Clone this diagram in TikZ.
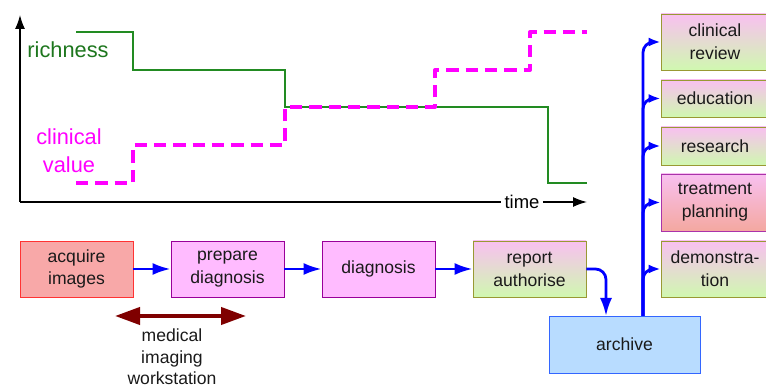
\documentclass[tikz,border=0pt]{standalone}
\usepackage{fontspec}
\setmainfont{Liberation Sans}
\usetikzlibrary{arrows.meta}
\usetikzlibrary{calc}

\definecolor{boxtext}{HTML}{1A1A1A}
\definecolor{richgreen}{HTML}{228B22}
\definecolor{valmag}{HTML}{FF00FF}
\definecolor{acqfill}{HTML}{F8A8A8}
\definecolor{acqline}{HTML}{FF3333}
\definecolor{prepfill}{HTML}{FFBBFF}
\definecolor{prepline}{HTML}{990099}
\definecolor{usetop}{HTML}{F8C0F0}
\definecolor{usebot}{HTML}{D0F8B0}
\definecolor{useline}{HTML}{999933}
\definecolor{treatbot}{HTML}{F4A8A0}
\definecolor{treatline}{HTML}{AA33AA}
\definecolor{archfill}{HTML}{B8DCFF}
\definecolor{archline}{HTML}{3366FF}
\definecolor{wsred}{HTML}{7F0000}

\begin{document}
\begin{tikzpicture}[thick,
    stage/.style={draw, thin, minimum width=2.26cm, minimum height=1.12cm,
      align=center, text=boxtext, font=\fontsize{10}{13}\selectfont},
    use/.style={stage, minimum width=2.16cm, draw=useline, top color=usetop, bottom color=usebot},
    flow/.style={blue, line width=1.6pt, -{Latex[length=3.6mm, width=2.4mm]}},
    branch/.style={blue, line width=1.6pt, rounded corners=6pt, -{Latex[length=2.4mm, width=1.8mm]}},
    axis/.style={black, line width=0.8pt},
    label/.style={align=center, font=\fontsize{12.4}{16}\selectfont}]

      \useasboundingbox (0,0) rectangle (15.32,7.74);

      % axes
      \coordinate (origin) at (0.40,3.70);
      \coordinate (ytop) at (0.40,7.44);
      \coordinate (xend) at (11.74,3.70);
      \node (time) at (10.44,3.70) [inner sep=1.5pt, font=\fontsize{10.5}{12}\selectfont] {time};
      \draw [axis, -{Latex[length=2.8mm, width=2mm]}] (origin) -- (ytop);
      \draw [axis] (origin) -- (time.west);
      \draw [axis, -{Latex[length=2.8mm, width=2mm]}] (time.east) -- (xend);

      \node (richness) at (1.36,6.74) [label, text=richgreen!85!black] {richness};
      \node (value) at (1.38,4.72) [label, text=valmag] {clinical\\value};

      \draw [richgreen, line width=0.8pt] (1.52,7.10) -- (2.66,7.10) -- (2.66,6.34)
        -- (5.70,6.34) -- (5.70,5.60) -- (10.96,5.60) -- (10.96,4.08) -- (11.74,4.08);
      \draw [valmag, line width=2.3pt, dash pattern=on 7pt off 4pt, line join=round]
        (1.52,4.08) -- (2.66,4.08) -- (2.66,4.84) -- (5.70,4.84) -- (5.70,5.60)
        -- (8.70,5.60) -- (8.70,6.34) -- (10.60,6.34) -- (10.60,7.10) -- (11.74,7.10);

      % workflow
      \node (acquire) at (1.53,2.36) [stage, fill=acqfill, draw=acqline] {acquire\\images};
      \node (prepare) at (4.55,2.36) [stage, fill=prepfill, draw=prepline] {prepare\\diagnosis};
      \node (diagnosis) at (7.57,2.36) [stage, fill=prepfill, draw=prepline] {diagnosis};
      \node (report) at (10.59,2.36) [stage, draw=useline, top color=usetop, bottom color=usebot] {report\\authorise};
      \node (archive) at (12.49,0.85) [stage, minimum width=3.02cm, minimum height=1.14cm,
        fill=archfill, draw=archline] {archive};

      \draw [flow] (acquire) -- (prepare);
      \draw [flow] (prepare) -- (diagnosis);
      \draw [flow] (diagnosis) -- (report);
      \coordinate (archin) at (12.12,1.42);
      \draw [flow, rounded corners=6pt] (report.east) -| (archin);

      % uses of the archive
      \node (review) at (14.30,6.90) [use] {clinical\\review};
      \node (education) at (14.30,5.77) [use, minimum height=0.74cm] {education};
      \node (research) at (14.30,4.82) [use, minimum height=0.76cm] {research};
      \node (treatment) at (14.30,3.69) [use, minimum height=1.14cm, draw=treatline,
        top color=usetop, middle color=usebot, bottom color=treatbot] {treatment\\planning};
      \node (demo) at (14.30,2.36) [use] {demonstra-\\tion};

      \coordinate (trunk) at (12.86,1.42);
      \foreach \target in {review, education, research, treatment, demo}
        \draw [branch] (trunk) |- (\target.west);

      % workstation span
      \coordinate (wsleft) at (2.30,1.42);
      \coordinate (wsright) at (4.92,1.42);
      \draw [wsred, line width=2.3pt, {Triangle[length=5mm, width=3.4mm]}-{Triangle[length=5mm, width=3.4mm]}]
        (wsleft) -- (wsright);
      \node (station) at (3.44,0.60) [align=center, text=boxtext,
        font=\fontsize{10}{12.2}\selectfont] {medical\\imaging\\workstation};
\end{tikzpicture}
\end{document}
